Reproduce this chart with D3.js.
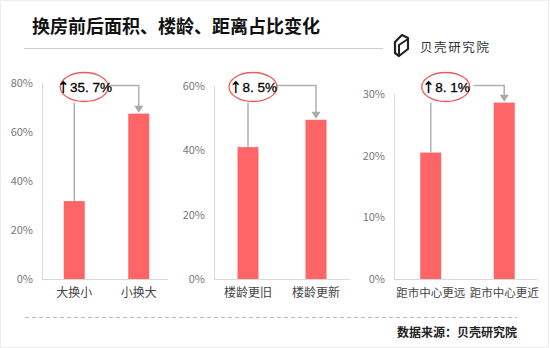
<!DOCTYPE html>
<html><head><meta charset="utf-8">
<script src="https://cdn.jsdelivr.net/npm/d3@7/dist/d3.min.js"></script>
<style>
html,body{margin:0;padding:0;background:#fff;}
svg{display:block;font-family:"Noto Sans CJK SC","Noto Sans",sans-serif;}
</style></head>
<body>
<svg id="chart" width="550" height="348"></svg>
<script>
const title = "换房前后面积、楼龄、距离占比变化";
const source = "数据来源：贝壳研究院";
const brand = "贝壳研究院";

const areaCategories = ["大换小", "小换大"];
const areaValues = [31.8, 67.5];
const areaTicks = [0, 20, 40, 60, 80];
const areaChange = "35. 7%";

const ageCategories = ["楼龄更旧", "楼龄更新"];
const ageValues = [41.0, 49.5];
const ageTicks = [0, 20, 40, 60];
const ageChange = "8. 5%";

const distCategories = ["距市中心更远", "距市中心更近"];
const distValues = [20.5, 28.6];
const distTicks = [0, 10, 20, 30];
const distChange = "8. 1%";

const svg = d3.select("#chart");

// frame
svg.append("rect").attr("x",0.5).attr("y",0.5).attr("width",548).attr("height",347)
  .attr("fill","none").attr("stroke","#eeeeee");

// title
svg.append("text").attr("x",32).attr("y",33).attr("font-size",18).attr("font-weight","bold")
  .attr("fill","#111").text(title);
svg.append("line").attr("x1",24).attr("x2",383).attr("y1",48.5).attr("y2",48.5)
  .attr("stroke","#cccccc").attr("stroke-width",1);

// logo
const lg = svg.append("g").attr("transform","translate(394,34)");
lg.append("path").attr("d","M8,1 L14,4 L14,15 L5,22 L1,19 L1,8 Z").attr("fill","none")
  .attr("stroke","#222").attr("stroke-width",2.2).attr("stroke-linejoin","round");
lg.append("path").attr("d","M5,22 L5,11 L14,5").attr("fill","none")
  .attr("stroke","#222").attr("stroke-width",2);
svg.append("text").attr("x",420).attr("y",52).attr("font-size",12.5).attr("letter-spacing",1.6)
  .attr("fill","#333").text(brand);

// footer
svg.append("line").attr("x1",25).attr("x2",517).attr("y1",317.5).attr("y2",317.5)
  .attr("stroke","#bbbbbb").attr("stroke-dasharray","4,3");
svg.append("text").attr("x",517).attr("y",337).attr("text-anchor","end").attr("font-size",12)
  .attr("font-weight","bold").attr("fill","#222").text(source);

function panel(cfg){
  const g = svg.append("g");
  const x = d3.scalePoint().domain(cfg.categories).range([cfg.x0, cfg.x1]).padding(0.5);
  const y = d3.scaleLinear().domain([0, d3.max(cfg.ticks)]).range([279, cfg.yTop]);
  g.append("line").attr("x1",cfg.x0+0.5).attr("x2",cfg.x0+0.5).attr("y1",y(0)).attr("y2",y(d3.max(cfg.ticks)))
    .attr("stroke","#d9d9d9");
  g.append("line").attr("x1",cfg.x0).attr("x2",cfg.axisEnd).attr("y1",y(0)+0.5).attr("y2",y(0)+0.5)
    .attr("stroke","#d9d9d9");
  g.selectAll(".yt").data(cfg.ticks).join("text")
    .attr("x",cfg.x0-9).attr("y",d=>y(d)+4).attr("text-anchor","end")
    .attr("font-size",11).attr("fill","#777").text(d=>d+"%");
  const bw = 21;
  g.selectAll(".bar").data(cfg.values).join("rect")
    .attr("x",(d,i)=>x(cfg.categories[i])-bw/2).attr("width",bw)
    .attr("y",d=>y(d)).attr("height",d=>y(0)-y(d))
    .attr("fill","#fe6567");
  g.selectAll(".xl").data(cfg.categories).join("text")
    .attr("x",d=>x(d)).attr("y",297).attr("text-anchor","middle")
    .attr("font-size",cfg.labelSize).attr("fill","#444").text(d=>d);

  const cx0 = x(cfg.categories[0]), cx1 = x(cfg.categories[1]);
  const ex = cx0 + cfg.ellipseOff, ey = 87, rx = 24, ry = 14.5;
  const lineY = 85.5;
  g.append("line").attr("x1",cx0).attr("x2",cx0).attr("y1",ey+ry+1).attr("y2",y(cfg.values[0]))
    .attr("stroke","#b0b0b0").attr("stroke-width",1.5);
  g.append("path")
    .attr("d",`M${ex+rx+cfg.gap},${lineY} L${cx1},${lineY} L${cx1},${y(cfg.values[1])-7}`)
    .attr("fill","none").attr("stroke","#b0b0b0").attr("stroke-width",1.5);
  g.append("path")
    .attr("d",`M${cx1-4.5},${y(cfg.values[1])-8} L${cx1+4.5},${y(cfg.values[1])-8} L${cx1},${y(cfg.values[1])-1} Z`)
    .attr("fill","#aaaaaa");
  g.append("ellipse").attr("cx",ex).attr("cy",ey).attr("rx",rx).attr("ry",ry)
    .attr("fill","#fff").attr("stroke","#ee5a5a").attr("stroke-width",1.3);
  const t = g.append("text").attr("x",ex).attr("y",ey+4.5).attr("text-anchor","middle")
    .attr("font-size",13.5).attr("fill","#000");
  t.append("tspan").attr("font-weight","bold").text("↑");
  t.append("tspan").attr("font-family","Liberation Sans, Arial, sans-serif")
    .attr("stroke","#000").attr("stroke-width",0.3).text(cfg.change);
}

panel({categories:areaCategories, values:areaValues, ticks:areaTicks, change:areaChange,
  x0:42, x1:171, axisEnd:168, yTop:83, ellipseOff:10, gap:0, labelSize:12});
panel({categories:ageCategories, values:ageValues, ticks:ageTicks, change:ageChange,
  x0:214, x1:350, axisEnd:350, yTop:86, ellipseOff:5, gap:0, labelSize:12});
panel({categories:distCategories, values:distValues, ticks:distTicks, change:distChange,
  x0:394, x1:541, axisEnd:537, yTop:94, ellipseOff:15, gap:4, labelSize:11.5});
</script>
</body></html>
